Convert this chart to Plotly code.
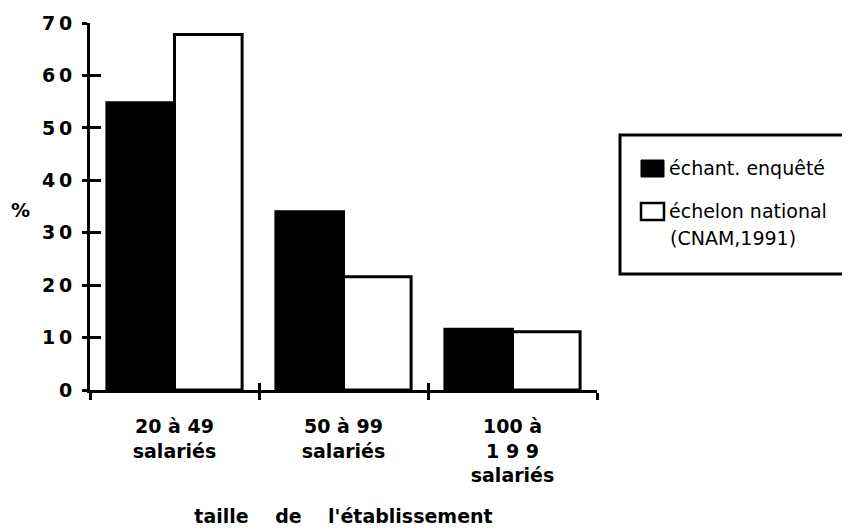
import plotly.graph_objects as go

categories = ["20 à 49<br>salariés", "50 à 99<br>salariés", "100 à<br>1 9 9<br>salariés"]
echant_enquete = [54.8, 34.0, 11.6]
echelon_national = [67.8, 21.6, 11.1]
series_names = ["échant. enquêté", "échelon national", "(CNAM,1991)"]
y_ticks = [0, 10, 20, 30, 40, 50, 60, 70]
y_ticktext = ["0", "1\u20090", "2\u20090", "3\u20090", "4\u20090", "5\u20090", "6\u20090", "7\u20090"]
x_bounds = [-0.5, 0.5, 1.5, 2.5]
x_title = "taille    de    l'établissement"

FONT = "DejaVu Sans"
OFF = 8  # page body margin in the browser

# target screen geometry of the plotting area
SX0, SX1, SY0, SY1 = 90, 597, 23, 390
W, H = 850, 530
L = SX0 - OFF
T = SY0 - OFF
R = W - (SX1 - OFF)
B = H - (SY1 - OFF)
pw = W - L - R
ph = H - T - B


def px(x):
    return (x - OFF - L) / pw


def py(y):
    return (H - B - (y - OFF)) / ph


fig = go.Figure()
fig.add_trace(go.Bar(x=categories, y=echant_enquete, name=series_names[0],
                     marker=dict(color="black", line=dict(color="black", width=3)),
                     showlegend=False))
fig.add_trace(go.Bar(x=categories, y=echelon_national, name=series_names[1],
                     marker=dict(color="white", line=dict(color="black", width=3)),
                     showlegend=False))
# empty helper trace so the overlaid tick axes get drawn
fig.add_trace(go.Scatter(x=[], y=[], xaxis="x2", yaxis="y2", showlegend=False,
                         hoverinfo="skip"))

fig.update_layout(
    width=W, height=H,
    margin=dict(l=L, r=R, t=T, b=B, autoexpand=False),
    paper_bgcolor="white", plot_bgcolor="white",
    barmode="group", bargap=0.2, bargroupgap=0,
    font=dict(family=FONT, size=18, color="black"),
    xaxis=dict(
        type="category", range=[-0.5, 2.5], tickson="boundaries", automargin=False,
        ticks="outside", ticklen=7, tickwidth=3, tickcolor="black",
        showline=True, linewidth=3, linecolor="black", showgrid=False,
        tickfont=dict(family=FONT, size=19, color="black", weight="bold"),
        ticklabelstandoff=17,
        title=dict(text=x_title, standoff=25,
                   font=dict(family=FONT, size=19, color="black", weight="bold")),
    ),
    xaxis2=dict(
        type="linear", overlaying="x", anchor="y", range=[-0.5, 2.5],
        automargin=False,
        tickvals=x_bounds, ticks="inside", ticklen=7, tickwidth=3,
        tickcolor="black", showticklabels=False, showline=False, showgrid=False,
        zeroline=False, side="bottom",
    ),
    yaxis=dict(
        range=[0, 70], tickvals=y_ticks, ticktext=y_ticktext, ticks="outside",
        automargin=False,
        ticklen=5, tickwidth=3, tickcolor="black", showline=True, linewidth=3,
        linecolor="black", showgrid=False, zeroline=False, ticklabelstandoff=6,
        tickfont=dict(family=FONT, size=19, color="black", weight="bold"),
    ),
    yaxis2=dict(
        type="linear", overlaying="y", anchor="x", range=[0, 70], tickvals=y_ticks,
        automargin=False,
        ticks="inside", ticklen=11, tickwidth=3, tickcolor="black",
        showticklabels=False, showline=False, showgrid=False, zeroline=False,
        side="left",
    ),
)

# "%" axis label
fig.add_annotation(text="%", xref="paper", yref="paper", x=px(20), y=py(210),
                   xanchor="center", yanchor="middle",
                   showarrow=False, font=dict(family=FONT, size=19, weight="bold"))

# legend box (drawn by hand; its right side runs off the page as in the original)
bx0, bx1, by0, by1 = px(620), px(900), py(274), py(135)
fig.add_shape(type="path", xref="paper", yref="paper",
              path=f"M {bx1} {by1} L {bx0} {by1} L {bx0} {by0} L {bx1} {by0}",
              line=dict(color="black", width=3))
fig.add_shape(type="rect", xref="paper", yref="paper",
              x0=px(641), x1=px(664), y0=py(177), y1=py(160),
              line=dict(color="black", width=1), fillcolor="black")
fig.add_shape(type="rect", xref="paper", yref="paper",
              x0=px(641), x1=px(664), y0=py(220), y1=py(203),
              line=dict(color="black", width=2.5), fillcolor="white")
fig.add_annotation(text=series_names[0], xref="paper", yref="paper",
                   x=px(667), y=py(168), xanchor="left", yanchor="middle",
                   showarrow=False, font=dict(family=FONT, size=19))
fig.add_annotation(text=series_names[1], xref="paper", yref="paper",
                   x=px(667), y=py(211), xanchor="left", yanchor="middle",
                   showarrow=False, font=dict(family=FONT, size=19))
fig.add_annotation(text=series_names[2], xref="paper", yref="paper",
                   x=px(668), y=py(238), xanchor="left", yanchor="middle",
                   showarrow=False, font=dict(family=FONT, size=19))

fig.write_html("out.html")
